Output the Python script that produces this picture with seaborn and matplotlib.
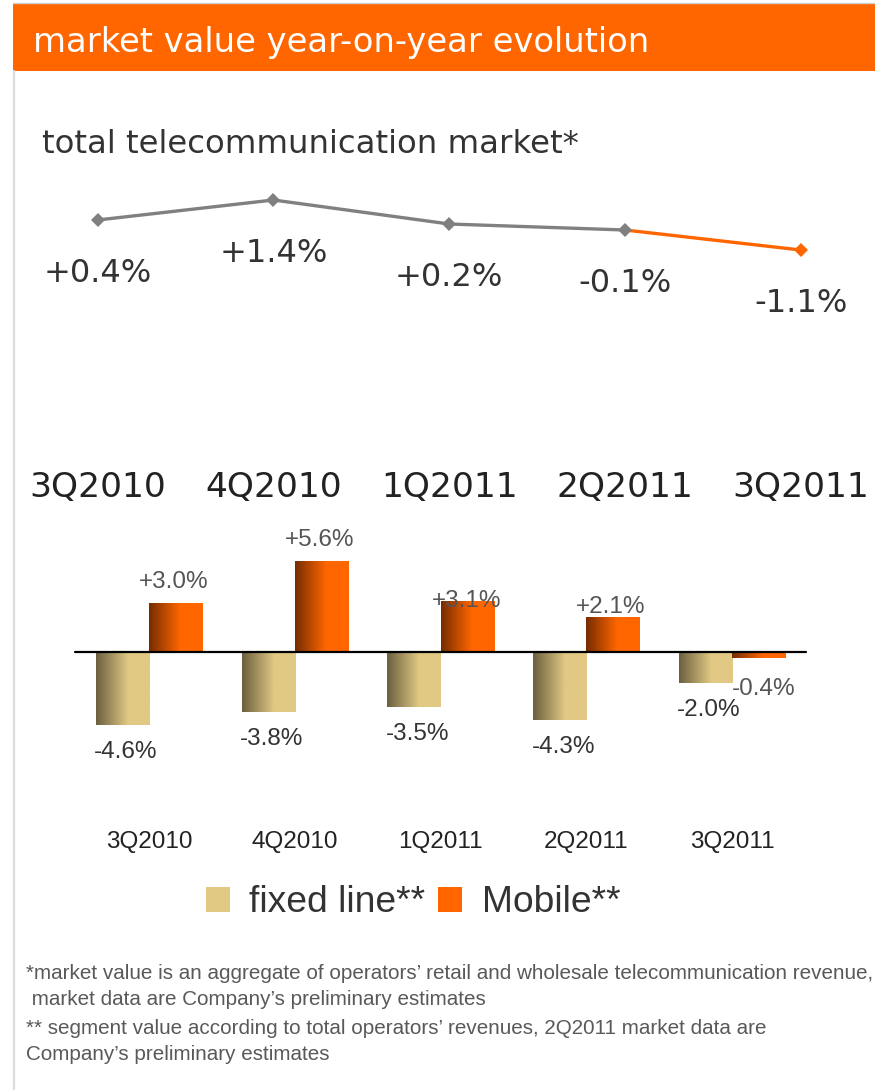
import numpy as np
import pandas as pd
import matplotlib
matplotlib.use("Agg")
import matplotlib.pyplot as plt
import seaborn as sns
from matplotlib.colors import LinearSegmentedColormap
from matplotlib.patches import Rectangle, Patch
from matplotlib.lines import Line2D
from matplotlib.transforms import blended_transform_factory

# ---- data -------------------------------------------------------------
quarters = ["3Q2010", "4Q2010", "1Q2011", "2Q2011", "3Q2011"]
total_market = [0.4, 1.4, 0.2, -0.1, -1.1]
fixed_line = [-4.6, -3.8, -3.5, -4.3, -2.0]
mobile = [3.0, 5.6, 3.1, 2.1, -0.4]
segments = ["fixed line**", "Mobile**"]

title = "market value year-on-year evolution"
subtitle = "total telecommunication market*"
footnotes = [
    "*market value is an aggregate of operators\u2019 retail and wholesale telecommunication revenue,",
    " market data are Company\u2019s preliminary estimates",
    "** segment value according to total operators\u2019 revenues, 2Q2011 market data are",
    "Company\u2019s preliminary estimates",
]

# ---- style ------------------------------------------------------------
ORANGE = "#FF6600"
GREY_LINE = "#808080"
TAN = "#E1C984"
DARK = "#333333"
ARIAL = "Liberation Sans"
WIDE = "DejaVu Sans"

W, H, DPI = 875, 1090, 100

sns.set_theme(style="white")
plt.rcParams["font.family"] = [ARIAL, "DejaVu Sans"]

fig = plt.figure(figsize=(W / DPI, H / DPI), dpi=DPI)
fig.patch.set_facecolor("white")


def fx(px):
    return px / W


def fy(py):
    return 1 - py / H


def px_axes(top, bottom):
    ax = fig.add_axes([0, fy(bottom), 1, (bottom - top) / H])
    ax.set_axis_off()
    return ax


PT = 0.72  # points per pixel at 100 dpi

# ---- frame and header -------------------------------------------------
fig.add_artist(Rectangle((fx(13), fy(71)), 1 - fx(13), (71 - 3.5) / H,
                         transform=fig.transFigure, facecolor=ORANGE,
                         edgecolor="none", zorder=0))
fig.add_artist(Line2D([fx(13), 1], [fy(2.5), fy(2.5)], transform=fig.transFigure,
                      color="#cfcfcf", lw=1.0))
fig.add_artist(Line2D([fx(14), fx(14)], [fy(71), 0], transform=fig.transFigure,
                      color="#dcdcdc", lw=1.6))
fig.text(fx(33), fy(52), title, color="white", fontsize=24.3,
         family=WIDE, va="baseline", ha="left")
fig.text(fx(42), fy(153), subtitle, color=DARK, fontsize=23.3,
         family=WIDE, va="baseline", ha="left")

# ---- total market line ------------------------------------------------
ax1 = px_axes(180, 330)
step1, x01 = 175.75, 97.7
ax1.set_xlim(-x01 / step1, (W - x01) / step1)
y0_1, k1 = 228, 20.0
ax1.set_ylim((y0_1 - 330) / k1, (y0_1 - 180) / k1)

idx = np.arange(len(quarters))
sns.lineplot(x=idx[3:], y=total_market[3:], ax=ax1, color=ORANGE, lw=2.4,
             marker="D", markersize=7, markeredgewidth=0, markevery=[1],
             sort=False, zorder=2)
sns.lineplot(x=idx[:4], y=total_market[:4], ax=ax1, color=GREY_LINE, lw=2.4,
             marker="D", markersize=7, markeredgewidth=0,
             sort=False, zorder=3)
for i, v in enumerate(total_market):
    ax1.annotate(f"{v:+.1f}%", xy=(i, v), xytext=(0, -62 * PT),
                 textcoords="offset points", ha="center", va="baseline",
                 fontsize=23.1, family=WIDE, color=DARK)

qtrans = blended_transform_factory(ax1.transData, fig.transFigure)
for i, q in enumerate(quarters):
    ax1.text(i, fy(497), q, transform=qtrans, ha="center", va="baseline",
             fontsize=24.8, family=WIDE, color="#222222")

# ---- segment bars -----------------------------------------------------
ax2 = fig.add_axes([0, fy(800), 1, (800 - 520) / H])
df = pd.DataFrame({
    "quarter": quarters * 2,
    "segment": [segments[0]] * len(quarters) + [segments[1]] * len(quarters),
    "value": fixed_line + mobile,
})
sns.barplot(data=df, x="quarter", y="value", hue="segment", order=quarters,
            hue_order=segments, palette=[TAN, ORANGE], width=0.73,
            saturation=1, ax=ax2, legend=False)

step2, x02 = 145.8, 149.0
y0_2, k2 = 651.5, 16.0

cmaps = [
    LinearSegmentedColormap.from_list("fixed", [(0, "#6B5F3F"), (0.6, TAN), (1, TAN)]),
    LinearSegmentedColormap.from_list("mob", [(0, "#762C00"), (0.58, ORANGE), (1, ORANGE)]),
]
grad = np.linspace(0, 1, 256).reshape(1, -1)

# per-bar label placement (pixels): baseline rise above the bar end
label_rise = [[-33] * 5, [16, 16, -5, 5, -37]]
label_shift = [[3.5] * 5, [-2, -2, -1, -2, 4.5]]
label_color = ["#333333", "#555555"]

for s, cont in enumerate(ax2.containers):
    for j, bar in enumerate(cont):
        x, w = bar.get_x(), bar.get_width()
        y, h = bar.get_y(), bar.get_height()
        lo, hi = min(y, y + h), max(y, y + h)
        ax2.imshow(grad, extent=[x, x + w, lo, hi], aspect="auto",
                   cmap=cmaps[s], interpolation="bilinear", zorder=2)
        bar.set_facecolor("none")
        bar.set_edgecolor("none")
        v = cont.datavalues[j]
        ax2.annotate(f"{v:+.1f}%", xy=(x + w / 2, v),
                     xytext=(label_shift[s][j] * PT, label_rise[s][j] * PT),
                     textcoords="offset points", ha="center", va="baseline",
                     fontsize=17.5, color=label_color[s], zorder=4)

ax2.set_xlim(-x02 / step2, (W - x02) / step2)
ax2.set_ylim((y0_2 - 800) / k2, (y0_2 - 520) / k2)
ax2.axhline(0, xmin=fx(75), xmax=fx(806), color="black", lw=1.6, zorder=3)
for sp in ax2.spines.values():
    sp.set_visible(False)
ax2.set_facecolor("none")
ax2.set_xlabel("")
ax2.set_ylabel("")
ax2.set_yticks([])
ax2.tick_params(axis="x", length=0, pad=48 * PT, labelsize=17.5, labelcolor="#222222")
for lab in ax2.get_xticklabels():
    lab.set_va("baseline")

handles = [Patch(facecolor=TAN, edgecolor="none"), Patch(facecolor=ORANGE, edgecolor="none")]
ax2.legend(handles=handles, labels=segments, loc="center",
           bbox_to_anchor=(fx(413), fy(903)), bbox_transform=fig.transFigure,
           ncol=2, frameon=False, fontsize=26.8, labelcolor=DARK,
           handlelength=0.66, handleheight=0.66, handletextpad=0.52,
           columnspacing=0.33, borderpad=0, borderaxespad=0)

# ---- footnotes --------------------------------------------------------
for text, base in zip(footnotes, [979, 1005, 1034, 1060]):
    fig.text(fx(26), fy(base), text, fontsize=14.9, color="#595959",
             va="baseline", ha="left")

fig.savefig("out.png", dpi=DPI, facecolor="white")
